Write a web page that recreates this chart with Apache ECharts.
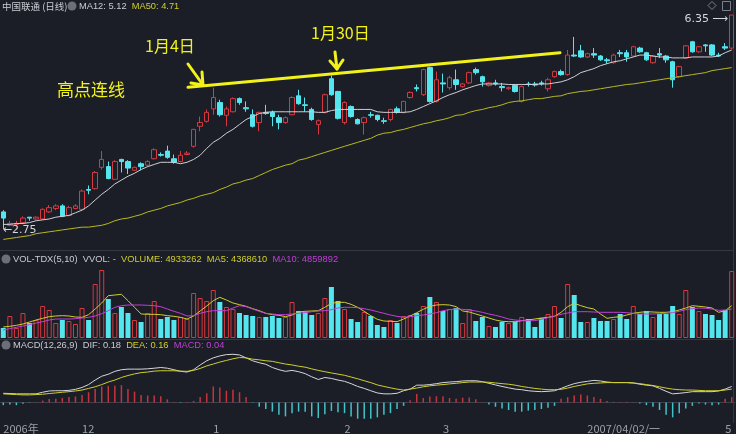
<!DOCTYPE html>
<html><head><meta charset="utf-8">
<script src="https://cdn.jsdelivr.net/npm/echarts@6/dist/echarts.min.js"></script>
<style>html,body{margin:0;padding:0;background:#1b1e27;}#c{width:736px;height:434px;}</style>
</head><body><div id="c"></div>
<script>
// ---------- data ----------
const dates = ['2006-11-15','2006-11-16','2006-11-17','2006-11-20','2006-11-21','2006-11-22','2006-11-23','2006-11-24','2006-11-27','2006-11-28','2006-11-29','2006-11-30',
'2006-12-01','2006-12-04','2006-12-05','2006-12-06','2006-12-07','2006-12-08','2006-12-11','2006-12-12','2006-12-13','2006-12-14','2006-12-15','2006-12-18','2006-12-19','2006-12-20','2006-12-21','2006-12-22','2006-12-26','2006-12-27','2006-12-28','2006-12-29',
'2007-01-04','2007-01-05','2007-01-08','2007-01-09','2007-01-10','2007-01-11','2007-01-12','2007-01-15','2007-01-16','2007-01-17','2007-01-18','2007-01-19','2007-01-22','2007-01-23','2007-01-24','2007-01-25','2007-01-26','2007-01-29','2007-01-30','2007-01-31',
'2007-02-01','2007-02-02','2007-02-05','2007-02-06','2007-02-07','2007-02-08','2007-02-09','2007-02-12','2007-02-13','2007-02-14','2007-02-15','2007-02-16','2007-02-26','2007-02-27','2007-02-28',
'2007-03-01','2007-03-02','2007-03-05','2007-03-06','2007-03-07','2007-03-08','2007-03-09','2007-03-12','2007-03-13','2007-03-14','2007-03-15','2007-03-16','2007-03-19','2007-03-20','2007-03-21','2007-03-22','2007-03-23','2007-03-26','2007-03-27','2007-03-28','2007-03-29','2007-03-30',
'2007-04-02','2007-04-03','2007-04-04','2007-04-05','2007-04-06','2007-04-09','2007-04-10','2007-04-11','2007-04-12','2007-04-13','2007-04-16','2007-04-17','2007-04-18','2007-04-19','2007-04-20','2007-04-23','2007-04-24','2007-04-25','2007-04-26','2007-04-27','2007-04-30',
'2007-05-08','2007-05-09'];

const open = [2.94,2.79,2.80,2.82,2.88,2.86,2.86,2.94,2.98,3.01,
 2.90,2.98,2.97,3.21,3.22,3.50,3.51,3.34,3.61,3.58,
 3.46,3.55,3.53,3.62,3.68,3.73,3.62,3.58,3.68,3.80,
 4.11,4.19,4.40,4.51,4.29,4.35,4.58,4.42,4.30,4.17,
 4.34,4.34,4.25,4.17,4.30,4.63,4.47,4.39,4.14,4.34,
 4.95,4.71,4.17,4.44,4.22,4.17,4.30,4.29,4.20,4.22,
 4.40,4.34,4.60,4.78,4.65,5.17,4.53,4.87,4.78,4.93,
 4.80,4.87,5.13,4.99,4.82,4.87,4.80,4.76,4.82,4.53,
 4.85,4.85,4.87,4.76,4.99,5.09,5.03,5.43,5.52,5.39,
 5.46,5.41,5.33,5.27,5.48,5.48,5.41,5.58,5.48,5.27,
 5.46,5.41,5.29,4.99,5.37,5.72,5.50,5.65,5.65,5.43,
 5.61,5.58];
const close = [2.87,2.81,2.81,2.87,2.87,2.88,2.97,2.99,3.01,2.89,
 2.99,3.01,3.19,3.20,3.43,3.61,3.35,3.58,3.58,3.49,
 3.50,3.51,3.58,3.75,3.67,3.64,3.57,3.67,3.70,4.06,
 4.17,4.34,4.60,4.30,4.40,4.58,4.51,4.40,4.11,4.34,
 4.32,4.27,4.17,4.25,4.60,4.49,4.46,4.22,4.20,4.65,
 4.65,4.24,4.51,4.27,4.15,4.25,4.29,4.22,4.19,4.39,
 4.34,4.53,4.69,4.76,5.13,4.53,4.93,4.85,4.97,4.84,
 4.85,5.07,5.07,4.89,4.87,4.85,4.78,4.78,4.71,4.80,
 4.84,4.83,4.85,4.93,5.09,5.03,5.43,5.41,5.39,5.46,
 5.43,5.33,5.31,5.43,5.46,5.39,5.61,5.50,5.33,5.41,
 5.43,5.33,4.93,5.19,5.63,5.50,5.61,5.63,5.43,5.41,
 5.58,6.35];
const low = [2.75,2.78,2.78,2.80,2.84,2.85,2.85,2.93,2.96,2.88,
 2.89,2.97,2.96,3.15,3.21,3.47,3.34,3.33,3.43,3.41,
 3.45,3.46,3.51,3.61,3.65,3.62,3.55,3.57,3.67,3.78,
 4.03,4.17,4.30,4.27,4.11,4.34,4.47,4.35,4.09,4.03,
 4.30,4.11,4.06,4.15,4.29,4.47,4.35,4.20,3.98,4.32,
 4.63,4.22,4.14,4.25,4.14,3.98,4.25,4.19,4.15,4.19,
 4.32,4.32,4.58,4.71,4.63,4.51,4.51,4.69,4.74,4.74,
 4.78,4.85,5.03,4.80,4.80,4.82,4.71,4.74,4.69,4.51,
 4.80,4.80,4.82,4.71,4.97,5.01,5.01,5.39,5.37,5.37,
 5.37,5.31,5.25,5.25,5.39,5.29,5.39,5.48,5.31,5.25,
 5.37,5.27,4.78,4.97,5.35,5.48,5.48,5.50,5.41,5.39,
 5.54,5.56];
const high = [2.96,2.84,2.84,2.89,2.88,2.89,2.98,3.02,3.03,3.03,
 3.01,3.03,3.21,3.26,3.45,3.73,3.58,3.60,3.62,3.60,
 3.51,3.57,3.60,3.77,3.71,3.81,3.68,3.73,3.73,4.07,
 4.27,4.39,4.78,4.56,4.44,4.60,4.60,4.53,4.39,4.35,
 4.47,4.37,4.30,4.27,4.62,4.74,4.60,4.42,4.22,4.67,
 5.01,4.72,4.53,4.46,4.24,4.27,4.35,4.30,4.25,4.40,
 4.44,4.54,4.71,4.84,5.15,5.19,5.09,5.05,5.01,5.13,
 4.87,5.09,5.17,5.01,4.89,4.93,4.87,4.80,4.84,4.82,
 4.89,4.89,4.91,4.97,5.11,5.13,5.54,5.83,5.65,5.48,
 5.58,5.43,5.37,5.46,5.54,5.54,5.63,5.61,5.50,5.43,
 5.58,5.43,5.31,5.21,5.65,5.74,5.63,5.67,5.67,5.48,
 5.69,6.35];
const ma12 = [2.80,2.80,2.81,2.81,2.82,2.84,2.85,2.86,2.88,2.89,
 2.90,2.93,2.96,3.01,3.08,3.15,3.21,3.28,3.33,3.38,
 3.42,3.47,3.51,3.54,3.57,3.57,3.57,3.55,3.57,3.61,
 3.67,3.77,3.86,3.92,4.00,4.06,4.14,4.22,4.27,4.32,
 4.34,4.35,4.35,4.35,4.35,4.35,4.35,4.35,4.34,4.34,
 4.37,4.39,4.39,4.39,4.39,4.39,4.39,4.35,4.34,4.34,
 4.34,4.34,4.35,4.39,4.44,4.49,4.54,4.60,4.65,4.69,
 4.74,4.78,4.82,4.85,4.85,4.85,4.85,4.84,4.84,4.84,
 4.84,4.84,4.85,4.85,4.87,4.89,4.93,4.99,5.07,5.11,
 5.15,5.21,5.25,5.29,5.31,5.35,5.39,5.43,5.43,5.41,
 5.39,5.39,5.37,5.37,5.37,5.39,5.39,5.39,5.39,5.41,
 5.48,5.54];
const ma50 = [2.64,2.65,2.66,2.67,2.68,2.70,2.71,2.72,2.73,2.74,
 2.75,2.76,2.77,2.77,2.78,2.79,2.81,2.84,2.86,2.87,
 2.89,2.91,2.94,2.96,2.98,3.01,3.03,3.05,3.08,3.10,
 3.13,3.15,3.17,3.21,3.24,3.28,3.30,3.33,3.35,3.39,
 3.43,3.47,3.50,3.53,3.55,3.60,3.62,3.65,3.68,3.71,
 3.74,3.77,3.80,3.83,3.86,3.89,3.92,3.97,4.00,4.01,
 4.04,4.06,4.09,4.12,4.15,4.17,4.20,4.22,4.25,4.29,
 4.30,4.34,4.37,4.39,4.42,4.44,4.47,4.51,4.53,4.54,
 4.56,4.58,4.58,4.60,4.62,4.63,4.67,4.69,4.71,4.72,
 4.74,4.76,4.78,4.80,4.82,4.84,4.85,4.87,4.89,4.91,
 4.93,4.95,4.97,4.99,5.01,5.03,5.05,5.07,5.11,5.13,
 5.15,5.17];
// volume in 10k shares
const volume = [250,550,250,625,375,450,800,700,375,450,
 425,350,750,450,1350,1700,975,625,775,625,
 450,400,625,925,475,525,450,525,475,1125,
 1000,925,1200,900,775,725,625,575,550,525,
 525,550,500,525,900,675,650,575,625,1000,
 1275,925,725,475,400,650,550,325,275,450,
 375,550,575,625,800,1025,900,675,725,750,
 375,725,425,525,300,275,400,375,400,525,
 475,275,500,600,800,500,1350,1075,400,400,
 500,425,425,475,600,475,800,600,675,525,
 600,600,800,600,1200,775,675,600,575,450,
 700,1675];
const volMa5 = [275,292,317,350,400,450,492,533,550,558,
 550,525,517,583,725,875,1058,1075,1092,933,
 767,600,592,592,583,558,542,517,475,550,
 675,800,933,1017,950,875,833,792,733,683,
 617,583,567,533,575,650,667,675,683,767,
 867,892,892,842,767,667,558,467,425,417,
 408,475,550,633,717,792,825,833,825,783,
 675,650,600,550,500,450,417,408,408,433,
 450,475,500,517,542,642,783,867,808,758,
 725,600,492,517,533,575,617,642,658,650,
 642,642,658,700,750,808,792,775,750,642,
 683,808];
const volMa10 = [200,233,267,300,333,375,408,450,475,475,
 475,483,500,517,550,608,683,767,808,825,
 825,825,817,808,783,725,667,617,550,558,
 617,658,683,683,683,750,808,783,725,667,
 617,600,583,583,600,617,633,658,675,683,
 708,750,767,767,758,733,700,658,617,575,
 542,517,533,558,575,600,633,683,708,725,
 717,700,675,642,600,567,525,475,450,433,
 433,433,467,508,550,592,625,658,658,658,
 650,642,642,642,642,633,617,600,600,600,
 608,617,633,667,708,733,750,742,725,692,
 700,725];
const dif = [0.080,0.078,0.075,0.075,0.075,0.075,0.089,0.100,0.102,0.102,
 0.105,0.114,0.130,0.155,0.194,0.227,0.244,0.269,0.283,0.288,
 0.288,0.288,0.291,0.296,0.302,0.296,0.283,0.269,0.263,0.283,
 0.324,0.360,0.385,0.402,0.413,0.416,0.410,0.385,0.360,0.343,
 0.330,0.302,0.283,0.269,0.277,0.266,0.249,0.222,0.199,0.216,
 0.208,0.194,0.183,0.163,0.139,0.122,0.102,0.083,0.075,0.075,
 0.080,0.102,0.116,0.150,0.150,0.155,0.163,0.172,0.177,0.180,
 0.186,0.188,0.188,0.180,0.166,0.152,0.139,0.127,0.116,0.111,
 0.102,0.097,0.094,0.097,0.102,0.122,0.144,0.163,0.175,0.183,
 0.191,0.186,0.177,0.172,0.172,0.172,0.169,0.158,0.150,0.144,
 0.122,0.097,0.075,0.080,0.086,0.094,0.094,0.094,0.094,0.100,
 0.116,0.139];
const dea = [0.075,0.072,0.069,0.066,0.066,0.069,0.072,0.078,0.083,0.089,
 0.094,0.100,0.108,0.122,0.136,0.155,0.177,0.194,0.216,0.233,
 0.247,0.258,0.263,0.271,0.274,0.274,0.274,0.271,0.269,0.277,
 0.294,0.316,0.332,0.349,0.363,0.377,0.388,0.385,0.374,0.368,
 0.360,0.355,0.343,0.332,0.324,0.313,0.305,0.290,0.277,0.266,
 0.255,0.245,0.235,0.220,0.205,0.188,0.172,0.152,0.139,0.127,
 0.116,0.108,0.116,0.125,0.136,0.144,0.150,0.155,0.161,0.166,
 0.172,0.177,0.177,0.177,0.175,0.169,0.163,0.158,0.150,0.139,
 0.130,0.122,0.116,0.111,0.111,0.114,0.125,0.139,0.150,0.161,
 0.166,0.169,0.172,0.172,0.172,0.172,0.169,0.163,0.155,0.147,
 0.136,0.125,0.116,0.111,0.108,0.108,0.105,0.102,0.102,0.102,
 0.108,0.116];
const macdHist = [-0.022,-0.017,-0.022,-0.011,-0.003,0.002,0.017,0.030,0.033,0.039,
 0.047,0.053,0.066,0.089,0.116,0.139,0.144,0.144,0.150,0.116,
 0.094,0.066,0.061,0.061,0.055,0.028,0.006,-0.004,0.006,0.014,
 0.047,0.080,0.139,0.130,0.102,0.111,0.089,0.047,-0.003,-0.036,
 -0.055,-0.078,-0.105,-0.119,-0.091,-0.078,-0.078,-0.119,-0.133,-0.100,
 -0.072,-0.083,-0.091,-0.119,-0.139,-0.139,-0.139,-0.127,-0.105,-0.091,
 -0.055,-0.028,0.019,0.075,0.039,0.053,0.055,0.055,0.039,0.033,
 0.042,0.044,0.028,0.002,-0.017,-0.036,-0.050,-0.064,-0.078,-0.078,
 -0.069,-0.064,-0.055,-0.044,-0.028,0.033,0.047,0.061,0.069,0.061,
 0.047,0.033,0.014,0.006,0.006,0.006,0.002,-0.008,-0.022,-0.036,
 -0.064,-0.105,-0.127,-0.091,-0.050,-0.028,-0.008,-0.017,-0.022,-0.017,
 0.033,0.047];
const tickIndex = [0, 12, 32, 52, 67, 89, 110];
const tickText = ['2006年', '12', '1', '2', '3', '2007/04/02/一', '5'];
const maxMark = {idx: 111, value: 6.35};
const minMark = {idx: 0, value: 2.75};

// ---------- style ----------
const BG = '#1b1e27';
const RED = '#d6393f';
const CYAN = '#54e6ef';
const GRID_LINE = '#343845';
const TXT = '#c9ccd2';
const YEL = '#cfcf2a';
const MAG = '#c23fd6';
const ANN = '#f2f21a';
const LF = '"Liberation Sans", Arial, sans-serif';
const CF = '"Noto Sans CJK SC", sans-serif';
const LS = 9.3;

const chart = echarts.init(document.getElementById('c'));
const grids = [
  {left: -1, right: 1, top: 10, height: 238},
  {left: -1, right: 1, top: 262, height: 76},
  {left: -1, right: 1, top: 348, height: 75}
];
const mkX = (gi, show) => ({
  type: 'category', gridIndex: gi, data: dates, boundaryGap: true,
  axisLine: {show: show, lineStyle: {color: '#3d414d'}},
  axisTick: {show: false}, splitLine: {show: false},
  axisLabel: show ? {
    show: true, interval: (idx) => tickIndex.indexOf(idx) >= 0,
    formatter: (v, idx) => { const k = tickIndex.indexOf(idx); return k >= 0 ? tickText[k] : ''; },
    align: 'left', color: '#9ba0a9', fontSize: 11, fontFamily: CF, margin: 3
  } : {show: false}
});

function rich(x, y, parts) {
  const r = {}; let s = '';
  parts.forEach((p, k) => { r['p' + k] = {fill: p[1], fontSize: LS, fontFamily: LF}; s += '{p' + k + '|' + p[0] + '}'; });
  return {type: 'text', x: x, y: y, style: {text: s, rich: r, textVerticalAlign: 'middle', fontSize: LS, fontFamily: LF}, z: 100};
}
function txt(x, y, s, color, size, font) {
  return {type: 'text', x: x, y: y, style: {text: s, fill: color, fontSize: size || LS, fontFamily: font || LF, textVerticalAlign: 'middle'}, z: 100};
}
function seg(points, color, w) {
  return {type: 'polyline', shape: {points: points}, style: {stroke: color, lineWidth: w, fill: null, lineCap: 'round', lineJoin: 'round'}, z: 100};
}
const ICON = '#6b6f79';

const graphics = [
  // panel separators
  {type: 'line', shape: {x1: 0, y1: 250.5, x2: 734, y2: 250.5}, style: {stroke: GRID_LINE, lineWidth: 1}, z: 1},
  {type: 'line', shape: {x1: 0, y1: 339.5, x2: 734, y2: 339.5}, style: {stroke: GRID_LINE, lineWidth: 1}, z: 1},
  {type: 'line', shape: {x1: 733.5, y1: 0, x2: 733.5, y2: 423}, style: {stroke: GRID_LINE, lineWidth: 1}, z: 1},
  // legends
  txt(2, 6, '中国联通 (日线)', TXT, 9.5, CF),
  {type: 'circle', shape: {cx: 72, cy: 6, r: 4.5}, style: {fill: ICON}, z: 100},
  rich(79, 6, [['MA12: 5.12  ', TXT], ['MA50: 4.71', YEL]]),
  {type: 'circle', shape: {cx: 6, cy: 259, r: 4.5}, style: {fill: ICON}, z: 100},
  rich(13, 259, [['VOL-TDX(5,10)  VVOL: -  ', TXT], ['VOLUME: 4933262  MA5: 4368610  ', YEL], ['MA10: 4859892', MAG]]),
  {type: 'circle', shape: {cx: 6, cy: 345, r: 4.5}, style: {fill: ICON}, z: 100},
  rich(13, 345, [['MACD(12,26,9)  DIF: 0.18  ', TXT], ['DEA: 0.16  ', YEL], ['MACD: 0.04', MAG]]),
  // top-right icons
  {type: 'polygon', shape: {points: [[712, 1.5], [716, 5.5], [712, 9.5], [708, 5.5]]}, style: {stroke: '#7b808a', fill: null, lineWidth: 1}, z: 100},
  {type: 'rect', shape: {x: 722.5, y: 1.5, width: 8, height: 9}, style: {stroke: '#7b808a', fill: null, lineWidth: 1}, z: 100},
  // annotations
  seg([[188, 87.3], [560, 52.7]], ANN, 3),
  seg([[188, 64], [203, 85]], ANN, 3),
  seg([[202, 72], [203, 85], [191, 83]], ANN, 3),
  seg([[335, 52], [337, 69]], ANN, 3),
  seg([[330, 61], [337, 69], [343, 60]], ANN, 3),
  txt(145, 46, '1月4日', ANN, 16, CF),
  txt(311, 33, '1月30日', ANN, 16, CF),
  txt(57, 90, '高点连线', ANN, 17, CF)
];

const option = {
  backgroundColor: BG,
  animation: false,
  grid: grids,
  xAxis: [mkX(0, false), mkX(1, false), mkX(2, true)],
  yAxis: [
    {type: 'log', logBase: 10, gridIndex: 0, min: 2.553, max: 6.477, show: false, splitLine: {show: false}},
    {type: 'value', gridIndex: 1, min: 0, max: 1900, show: false, splitLine: {show: false}},
    {type: 'value', gridIndex: 2, min: -0.15, max: 0.47, show: false, splitLine: {show: false}}
  ],
  series: [
    {
      type: 'candlestick', xAxisIndex: 0, yAxisIndex: 0, barWidth: 5,
      data: open.map((o, i) => [o, close[i], low[i], high[i]]),
      itemStyle: {color: BG, color0: CYAN, borderColor: RED, borderColor0: CYAN, borderWidth: 1},
      markPoint: {
        symbol: 'circle', symbolSize: 1, itemStyle: {color: 'rgba(0,0,0,0)'},
        data: [
          {coord: [maxMark.idx, maxMark.value], label: {show: true, position: 'left', distance: 3, offset: [0, 4], formatter: maxMark.value.toFixed(2) + ' \u27F6', color: '#d4d6da', fontSize: 11, fontFamily: '"DejaVu Sans", sans-serif'}},
          {coord: [minMark.idx, minMark.value], label: {show: true, position: 'right', distance: 0, offset: [-1, 1], formatter: '\u2190' + minMark.value.toFixed(2), color: '#d4d6da', fontSize: 11, fontFamily: '"DejaVu Sans", sans-serif'}}
        ]
      },
      z: 3
    },
    {type: 'line', xAxisIndex: 0, yAxisIndex: 0, data: ma12, symbol: 'none', lineStyle: {color: '#cfd0d6', width: 1}, z: 4},
    {type: 'line', xAxisIndex: 0, yAxisIndex: 0, data: ma50, symbol: 'none', lineStyle: {color: '#b9b91c', width: 1}, z: 4},
    {
      type: 'bar', xAxisIndex: 1, yAxisIndex: 1, barWidth: 5,
      data: volume.map((v, i) => ({value: v, itemStyle: close[i] >= open[i] ? {color: BG, borderColor: RED, borderWidth: 1} : {color: CYAN, borderWidth: 0}})),
      z: 3
    },
    {type: 'line', xAxisIndex: 1, yAxisIndex: 1, data: volMa5, symbol: 'none', lineStyle: {color: YEL, width: 1}, z: 4},
    {type: 'line', xAxisIndex: 1, yAxisIndex: 1, data: volMa10, symbol: 'none', lineStyle: {color: MAG, width: 1}, z: 4},
    {
      type: 'bar', xAxisIndex: 2, yAxisIndex: 2, barWidth: 1.5,
      data: macdHist.map(v => ({value: v, itemStyle: {color: v >= 0 ? '#c8343c' : '#3fc4c8'}})),
      z: 3
    },
    {type: 'line', xAxisIndex: 2, yAxisIndex: 2, data: dif, symbol: 'none', lineStyle: {color: '#d6d7dc', width: 1}, z: 4},
    {type: 'line', xAxisIndex: 2, yAxisIndex: 2, data: dea, symbol: 'none', lineStyle: {color: YEL, width: 1}, z: 4}
  ],
  graphic: graphics
};
chart.setOption(option);
</script></body></html>
